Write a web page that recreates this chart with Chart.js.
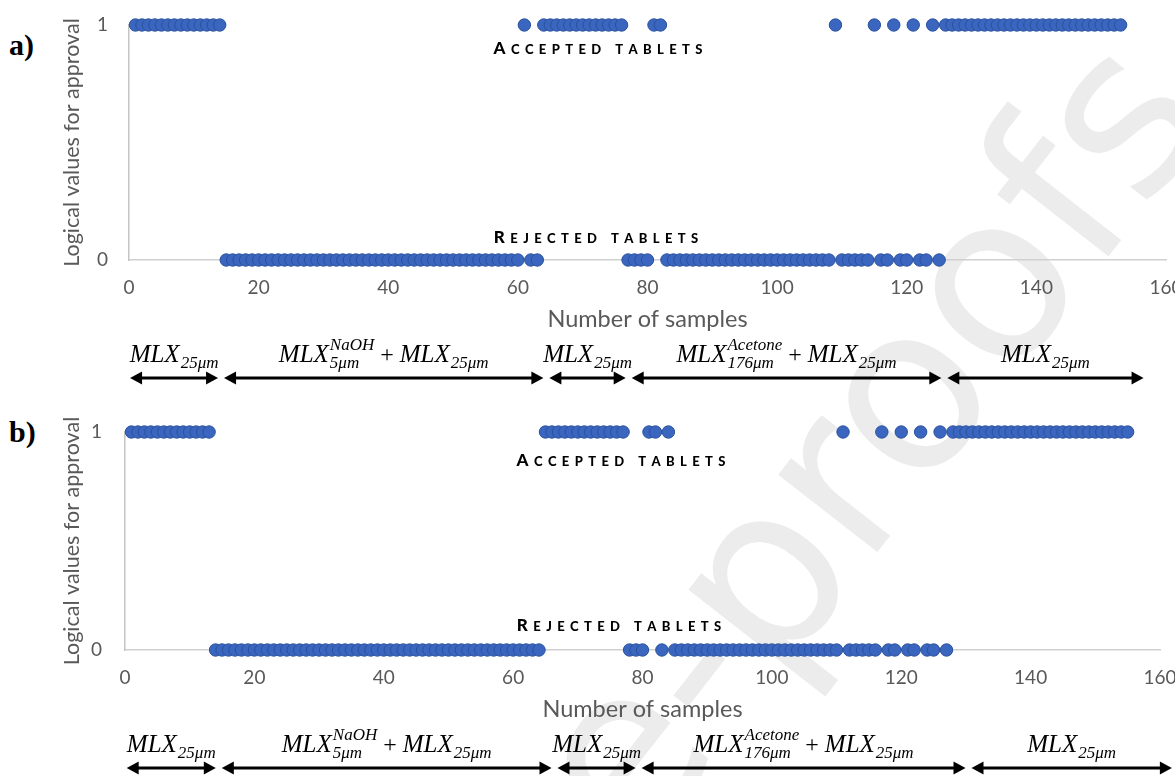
<!DOCTYPE html>
<html>
<head>
<meta charset="utf-8">
<script src="https://cdn.jsdelivr.net/npm/chart.js@4.4.1/dist/chart.umd.min.js"></script>
<style>
html, body { margin: 0; padding: 0; background: #fff; }
body { width: 1175px; height: 776px; position: relative; overflow: hidden; }
.box { position: absolute; left: 0; width: 1175px; }
.tag { position: absolute; left: 9px; font: bold 30px 'Liberation Serif', serif; color: #000; }
#wm {
    position: absolute; right: -70px; top: -90px;
    font: 230px 'DejaVu Sans', sans-serif; line-height: 1; color: #ececec;
    white-space: nowrap; transform-origin: 100% 100%; transform: rotate(-52deg);
}
</style>
</head>
<body>
<div id="wm">Journal Pre-proofs</div>
<div class="tag" style="top:28px">a)</div>
<div class="tag" style="top:415px">b)</div>
<div class="box" style="top:0"><canvas id="chartA" width="1175" height="392"></canvas></div>
<div class="box" style="top:390px"><canvas id="chartB" width="1175" height="386"></canvas></div>
<script>
// approval of each tablet in sample order (1 = accepted, 0 = rejected)
const approvalA = [
    1, 1, 1, 1, 1, 1, 1, 1, 1, 1,
    1, 1, 1, 1, 0, 0, 0, 0, 0, 0,
    0, 0, 0, 0, 0, 0, 0, 0, 0, 0,
    0, 0, 0, 0, 0, 0, 0, 0, 0, 0,
    0, 0, 0, 0, 0, 0, 0, 0, 0, 0,
    0, 0, 0, 0, 0, 0, 0, 0, 0, 0,
    1, 0, 0, 1, 1, 1, 1, 1, 1, 1,
    1, 1, 1, 1, 1, 1, 0, 0, 0, 0,
    1, 1, 0, 0, 0, 0, 0, 0, 0, 0,
    0, 0, 0, 0, 0, 0, 0, 0, 0, 0,
    0, 0, 0, 0, 0, 0, 0, 0, 1, 0,
    0, 0, 0, 0, 1, 0, 0, 1, 0, 0,
    1, 0, 0, 1, 0, 1, 1, 1, 1, 1,
    1, 1, 1, 1, 1, 1, 1, 1, 1, 1,
    1, 1, 1, 1, 1, 1, 1, 1, 1, 1,
    1, 1, 1,
];
const approvalB = [
    1, 1, 1, 1, 1, 1, 1, 1, 1, 1,
    1, 1, 1, 0, 0, 0, 0, 0, 0, 0,
    0, 0, 0, 0, 0, 0, 0, 0, 0, 0,
    0, 0, 0, 0, 0, 0, 0, 0, 0, 0,
    0, 0, 0, 0, 0, 0, 0, 0, 0, 0,
    0, 0, 0, 0, 0, 0, 0, 0, 0, 0,
    0, 0, 0, 0, 1, 1, 1, 1, 1, 1,
    1, 1, 1, 1, 1, 1, 1, 0, 0, 0,
    1, 1, 0, 1, 0, 0, 0, 0, 0, 0,
    0, 0, 0, 0, 0, 0, 0, 0, 0, 0,
    0, 0, 0, 0, 0, 0, 0, 0, 0, 0,
    1, 0, 0, 0, 0, 0, 1, 0, 0, 1,
    0, 0, 1, 0, 0, 1, 0, 1, 1, 1,
    1, 1, 1, 1, 1, 1, 1, 1, 1, 1,
    1, 1, 1, 1, 1, 1, 1, 1, 1, 1,
    1, 1, 1, 1, 1,
];
const xTicks = [0, 20, 40, 60, 80, 100, 120, 140, 160];
const yTicks = [0, 1];

// material groups under each panel (limits in sample numbers)
const groupLabels = [
    [{ b: 'MLX', sub: '25μm' }],
    [{ b: 'MLX', sub: '5μm', sup: 'NaOH' }, { op: '+' }, { b: 'MLX', sub: '25μm' }],
    [{ b: 'MLX', sub: '25μm' }],
    [{ b: 'MLX', sub: '176μm', sup: 'Acetone' }, { op: '+' }, { b: 'MLX', sub: '25μm' }],
    [{ b: 'MLX', sub: '25μm' }],
];
const groupLimitsA = [-0.3, 14.2, 64.4, 77.1, 125.8, 157];
const groupLimitsB = [-0.2, 14.5, 66.4, 79.4, 130.4, 162.3];

const FONT = 'Lato';
const GREY = '#595959';
const MATH = '"Liberation Serif"';

function drawArrow(ctx, x1, x2, y) {
    const head = 12, half = 6.5;
    ctx.lineWidth = 3;
    ctx.beginPath();
    ctx.moveTo(x1 + head - 1, y);
    ctx.lineTo(x2 - head + 1, y);
    ctx.stroke();
    ctx.beginPath();
    ctx.moveTo(x1, y);
    ctx.lineTo(x1 + head, y - half);
    ctx.lineTo(x1 + head, y + half);
    ctx.closePath();
    ctx.fill();
    ctx.beginPath();
    ctx.moveTo(x2, y);
    ctx.lineTo(x2 - head, y - half);
    ctx.lineTo(x2 - head, y + half);
    ctx.closePath();
    ctx.fill();
}

function mathWidth(ctx, parts) {
    let w = 0;
    parts.forEach(p => {
        if (p.op) {
            ctx.font = '24px ' + MATH;
            w += ctx.measureText(' ' + p.op + ' ').width;
            return;
        }
        ctx.font = 'italic 25px ' + MATH;
        w += ctx.measureText(p.b).width + 1;
        ctx.font = 'italic 17px ' + MATH;
        w += Math.max(ctx.measureText(p.sub || '').width, ctx.measureText(p.sup || '').width);
    });
    return w;
}

function drawMath(ctx, parts, cx, y) {
    let x = cx - mathWidth(ctx, parts) / 2;
    ctx.textAlign = 'left';
    ctx.textBaseline = 'alphabetic';
    parts.forEach(p => {
        if (p.op) {
            ctx.font = '24px ' + MATH;
            const t = ' ' + p.op + ' ';
            ctx.fillText(t, x, y);
            x += ctx.measureText(t).width;
            return;
        }
        ctx.font = 'italic 25px ' + MATH;
        ctx.fillText(p.b, x, y);
        x += ctx.measureText(p.b).width + 1;
        ctx.font = 'italic 17px ' + MATH;
        let w = 0;
        if (p.sub) { ctx.fillText(p.sub, x, y + 6); w = ctx.measureText(p.sub).width; }
        if (p.sup) { ctx.fillText(p.sup, x, y - 12); w = Math.max(w, ctx.measureText(p.sup).width); }
        x += w;
    });
}

function drawSmallCaps(ctx, text, cx, cy) {
    const gap = 5.4;
    const chars = text.split('');
    const fonts = chars.map((c, i) => i === 0 ? '900 17px Lato' : '900 13px Lato');
    let total = 0;
    chars.forEach((c, i) => {
        ctx.font = fonts[i];
        total += ctx.measureText(c).width + (i < chars.length - 1 ? gap : 0);
    });
    let x = cx - total / 2;
    ctx.textAlign = 'left';
    ctx.textBaseline = 'alphabetic';
    chars.forEach((c, i) => {
        ctx.font = fonts[i];
        ctx.fillText(c, x, cy + 6);
        x += ctx.measureText(c).width + gap;
    });
}

const groupsPlugin = {
    id: 'groups',
    afterDraw(chart, args, opts) {
        const ctx = chart.ctx;
        const xs = chart.scales.x;
        ctx.save();
        ctx.fillStyle = '#000';
        ctx.strokeStyle = '#000';
        const px = opts.limits.map(v => xs.getPixelForValue(v));
        for (let i = 1; i < px.length; i++) {
            drawArrow(ctx, px[i - 1] + 3, px[i] - 3, opts.arrowY);
            drawMath(ctx, groupLabels[i - 1], (px[i - 1] + px[i]) / 2, opts.labelY);
        }
        opts.notes.forEach(n => drawSmallCaps(ctx, n.text, n.x, n.y));
        ctx.restore();
    },
};

function makeChart(id, values, cfg) {
    return new Chart(document.getElementById(id), {
        type: 'scatter',
        data: {
            datasets: [{
                data: values.map((v, i) => ({ x: i + 1, y: v })),
                backgroundColor: '#3b66c0',
                borderColor: '#2a519c',
                borderWidth: 1,
                pointRadius: 6.2,
                pointHoverRadius: 6.2,
                clip: false,
            }],
        },
        options: {
            responsive: false,
            animation: false,
            events: [],
            layout: { padding: cfg.padding },
            plugins: {
                legend: { display: false },
                tooltip: { enabled: false },
                groups: cfg.groups,
            },
            scales: {
                x: {
                    type: 'linear',
                    min: 0,
                    max: 160,
                    afterBuildTicks: s => { s.ticks = xTicks.map(v => ({ value: v })); },
                    ticks: { padding: 16, color: GREY, font: { family: FONT, size: 19 } },
                    grid: { display: false, drawTicks: false },
                    border: { display: true, color: '#d0d0d0', width: 1.5 },
                    title: {
                        display: true,
                        text: 'Number of samples',
                        color: GREY,
                        font: { family: FONT, size: 23.5 },
                        padding: { top: 1, bottom: 1 },
                    },
                    afterFit: s => {
                        s.height = 75;
                        s.paddingLeft = 0; s.paddingRight = 0;
                    },
                },
                y: {
                    min: 0,
                    max: 1,
                    afterBuildTicks: s => { s.ticks = yTicks.map(v => ({ value: v })); },
                    ticks: { padding: cfg.yPad, color: GREY, font: { family: FONT, size: 19 } },
                    grid: { display: false, drawTicks: false },
                    border: { display: true, color: '#c4c4c4', width: 1.5 },
                    title: {
                        display: true,
                        text: 'Logical values for approval',
                        color: GREY,
                        font: { family: FONT, size: 21.5 },
                        padding: { top: 2, bottom: 2 },
                    },
                    afterFit: s => {
                        s.width = cfg.yWidth;
                        s.paddingTop = 0; s.paddingBottom = 0;
                    },
                },
            },
        },
        plugins: [groupsPlugin],
    });
}

makeChart('chartA', approvalA, {
    padding: { left: 57, right: 9, top: 25, bottom: 57 },
    yWidth: 72,
    yPad: 21,
    groups: {
        limits: groupLimitsA,
        arrowY: 378,
        labelY: 362,
        notes: [
            { text: 'ACCEPTED TABLETS', x: 598, y: 48 },
            { text: 'REJECTED TABLETS', x: 596, y: 237 },
        ],
    },
});

makeChart('chartB', approvalB, {
    padding: { left: 57, right: 15, top: 42, bottom: 51 },
    yWidth: 68,
    yPad: 23,
    groups: {
        limits: groupLimitsB,
        arrowY: 378,
        labelY: 362,
        notes: [
            { text: 'ACCEPTED TABLETS', x: 621, y: 70 },
            { text: 'REJECTED TABLETS', x: 619, y: 235 },
        ],
    },
});
</script>
</body>
</html>
